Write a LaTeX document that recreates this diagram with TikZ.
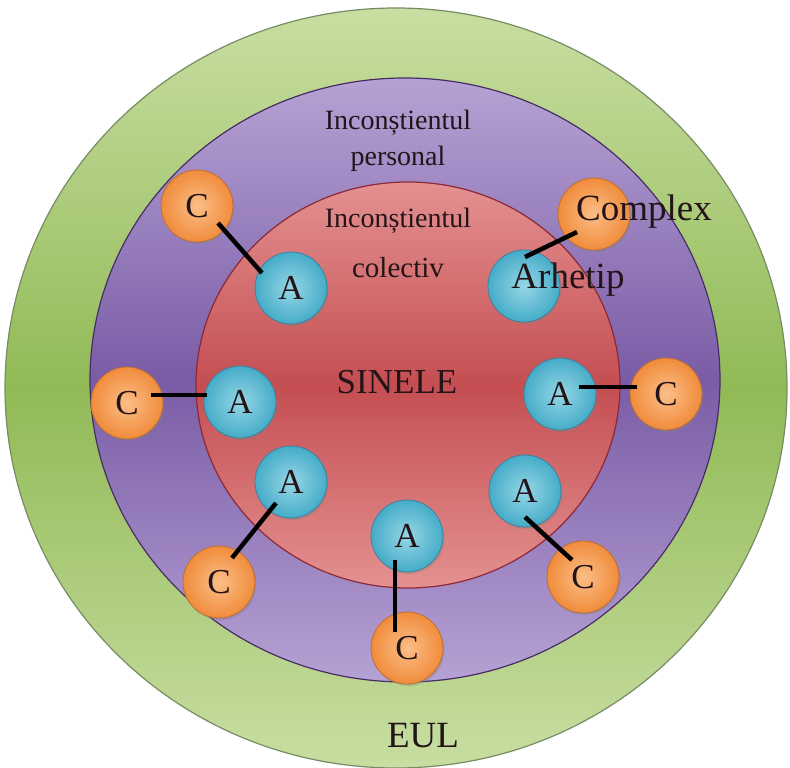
\documentclass[tikz,border=0pt]{standalone}
\usepackage{fontspec}
\setmainfont{Liberation Serif}
\usetikzlibrary{shadows}
\definecolor{grL}{RGB}{200,222,162}
\definecolor{grD}{RGB}{145,186,86}
\definecolor{grO}{RGB}{120,140,100}
\definecolor{puL}{RGB}{182,162,212}
\definecolor{puD}{RGB}{122,92,166}
\definecolor{puO}{RGB}{70,45,100}
\definecolor{reL}{RGB}{228,145,145}
\definecolor{reD}{RGB}{196,78,82}
\definecolor{reO}{RGB}{140,40,55}
\definecolor{blL}{RGB}{150,215,230}
\definecolor{blD}{RGB}{70,172,200}
\definecolor{blO}{RGB}{60,130,160}
\definecolor{orL}{RGB}{252,190,135}
\definecolor{orD}{RGB}{240,140,60}
\definecolor{orO}{RGB}{190,110,50}
\definecolor{txt}{RGB}{35,20,25}
\tikzset{
  ring/.style={line width=1.2pt},
  ball/.style={circle, minimum size=72pt, inner sep=0pt, line width=0.8pt,
    text=txt, font=\fontsize{35}{35}\selectfont,
    drop shadow={shadow xshift=1.5pt, shadow yshift=-2pt, opacity=0.35}},
  cball/.style={ball, draw=orO, inner color=orL, outer color=orD},
  aball/.style={ball, draw=blO, inner color=blL, outer color=blD},
  link/.style={line width=4.5pt, black},
  lbl/.style={text=txt, anchor=base, inner sep=0pt},
}
\begin{document}
\begin{tikzpicture}[x=1pt,y=-1pt]
\useasboundingbox (0,0) rectangle (790,768);
% rings
\shade[ring, draw=grO, top color=grL, bottom color=grL, middle color=grD]
  (396,388) ellipse [x radius=391pt, y radius=380pt];
\shade[ring, draw=puO, top color=puL, bottom color=puL, middle color=puD]
  (405,380) ellipse [x radius=315pt, y radius=302pt];
\shade[ring, draw=reO, top color=reL, bottom color=reL, middle color=reD]
  (408,385) ellipse [x radius=212pt, y radius=203pt];
% balls
\node[cball] (c1) at (197,206) {C};
\node[aball] (a1) at (291,288) {A};
\node[cball] (c2) at (594,214) {};
\node[aball] (a2) at (524,286) {};
\node[cball] (c3) at (127,403) {C};
\node[aball] (a3) at (240,402) {A};
\node[aball] (a4) at (560,394) {A};
\node[cball] (c4) at (666,394) {C};
\node[aball] (a5) at (291,482) {A};
\node[cball] (c5) at (219,582) {C};
\node[aball] (a6) at (407,536) {A};
\node[cball] (c6) at (407,648) {C};
\node[aball] (a7) at (525,491) {A};
\node[cball] (c7) at (583,577) {C};
% links
\draw[link] ([shift={(21,17)}]c1.center) -- ([shift={(-29,-15)}]a1.center);
\draw[link] ([shift={(-17,18)}]c2.center) -- ([shift={(1,-29)}]a2.center);
\draw[link] ([shift={(24,-8)}]c3.center) -- ([shift={(-33,-7)}]a3.center);
\draw[link] ([shift={(19,-7)}]a4.center) -- ([shift={(-29,-7)}]c4.center);
\draw[link] ([shift={(-15,21)}]a5.center) -- ([shift={(13,-24)}]c5.center);
\draw[link] ([shift={(-12,24)}]a6.center) -- ([shift={(-12,-16)}]c6.center);
\draw[link] ([shift={(0,26)}]a7.center) -- ([shift={(-11,-17)}]c7.center);
% labels
\node[lbl, font=\fontsize{28}{28}\selectfont] (t1) at (398,129) {Inconștientul};
\node[lbl, font=\fontsize{28}{28}\selectfont] (t2) at (398,165) {personal};
\node[lbl, font=\fontsize{28}{28}\selectfont] (t3) at (398,227) {Inconștientul};
\node[lbl, font=\fontsize{29}{29}\selectfont] (t4) at (398,277) {colectiv};
\node[lbl, font=\fontsize{35}{35}\selectfont] (t5) at (397,393) {SINELE};
\node[lbl, font=\fontsize{37}{37}\selectfont] (t6) at (423,747) {EUL};
\node[lbl, font=\fontsize{37}{37}\selectfont] (t7) at (644,220) {Complex};
\node[lbl, font=\fontsize{37}{37}\selectfont] (t8) at (568,288) {Arhetip};
\end{tikzpicture}
\end{document}
